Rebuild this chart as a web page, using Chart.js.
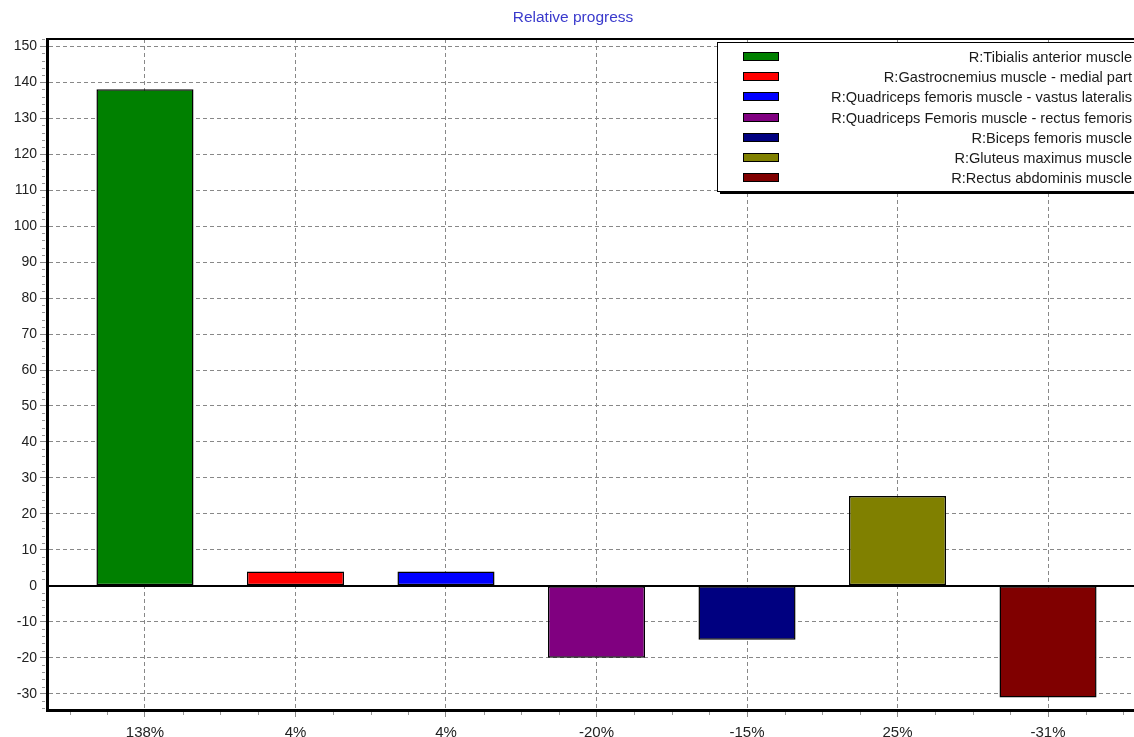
<!DOCTYPE html>
<html>
<head>
<meta charset="utf-8">
<title>Relative progress</title>
<script src="https://cdn.jsdelivr.net/npm/chart.js@4/dist/chart.umd.min.js"></script>
<style>
  html, body { margin: 0; padding: 0; background: #fff; overflow: hidden; }
  #wrap { width: 1150px; height: 737px; }
</style>
</head>
<body>
<div id="wrap"><canvas id="progressChart" width="1150" height="737"></canvas></div>
<script>
const muscles = [
  "R:Tibialis anterior muscle",
  "R:Gastrocnemius muscle - medial part",
  "R:Quadriceps femoris muscle - vastus lateralis",
  "R:Quadriceps Femoris muscle - rectus femoris",
  "R:Biceps femoris muscle",
  "R:Gluteus maximus muscle",
  "R:Rectus abdominis muscle"
];
const progress = [138, 4, 4, -20, -15, 25, -31];
const tickLabels = ["138%", "4%", "4%", "-20%", "-15%", "25%", "-31%"];
const barColors = ["#008000", "#ff0000", "#0000ff", "#800080", "#000080", "#808000", "#800000"];
const yTicks = [-30, -20, -10, 0, 10, 20, 30, 40, 50, 60, 70, 80, 90, 100, 110, 120, 130, 140, 150];

const FONT = "Arial, 'Liberation Sans', sans-serif";

// minor ticks, zero line and the top frame of the plot
const framePlugin = {
  id: "frame",
  beforeDatasetsDraw(chart) {
    const { ctx, chartArea: a, scales: { y } } = chart;
    ctx.save();
    ctx.strokeStyle = "#000";
    ctx.lineWidth = 2;
    const y0 = Math.round(y.getPixelForValue(0));
    ctx.beginPath();
    ctx.moveTo(a.left, y0);
    ctx.lineTo(a.right, y0);
    ctx.stroke();
    ctx.restore();
  },
  afterDraw(chart) {
    const { ctx, chartArea: a, scales: { x, y } } = chart;
    ctx.save();
    ctx.strokeStyle = "#000";
    ctx.lineWidth = 2;
    ctx.beginPath();
    ctx.moveTo(a.left - 1, a.top);
    ctx.lineTo(a.right, a.top);
    ctx.stroke();

    ctx.strokeStyle = "#999";
    ctx.lineWidth = 1;
    ctx.beginPath();
    for (let q = -2; q <= progress.length * 4; q++) {
      if (q % 4 === 0) continue;
      const px = Math.round(x.getPixelForValue(q / 4)) + 0.5;
      if (px < a.left || px > a.right) continue;
      ctx.moveTo(px, a.bottom + 2);
      ctx.lineTo(px, a.bottom + 5);
    }
    for (let v = -34; v <= 152; v += 2) {
      if (v % 10 === 0) continue;
      const py = Math.round(y.getPixelForValue(v)) + 0.5;
      ctx.moveTo(a.left - 5, py);
      ctx.lineTo(a.left - 2, py);
    }
    ctx.stroke();
    ctx.restore();
  }
};

// boxed legend with right-aligned names
const legendBox = {
  id: "legendBox",
  afterDraw(chart) {
    const { ctx } = chart;
    const left = 717, top = 42, right = 1143, bottom = 191;
    ctx.save();
    ctx.fillStyle = "#000";
    ctx.fillRect(left + 3, top + 3, right - left, bottom - top);
    ctx.fillStyle = "#fff";
    ctx.fillRect(left, top, right - left, bottom - top);
    ctx.strokeStyle = "#000";
    ctx.lineWidth = 1;
    ctx.strokeRect(left + 0.5, top + 0.5, right - left, bottom - top);

    ctx.font = "14.6px " + FONT;
    ctx.textAlign = "right";
    ctx.textBaseline = "middle";
    muscles.forEach((name, i) => {
      const cy = Math.round(57 + i * 20.2);
      ctx.fillStyle = barColors[i];
      ctx.fillRect(743, cy - 5, 36, 9);
      ctx.strokeStyle = "#000";
      ctx.strokeRect(743.5, cy - 4.5, 35, 8);
      ctx.fillStyle = "#1a1a1a";
      ctx.fillText(name, 1132, cy + 1);
    });
    ctx.restore();
  }
};

new Chart(document.getElementById("progressChart"), {
  type: "bar",
  data: {
    datasets: [{
      label: "Relative progress",
      data: progress.map((v, i) => ({ x: i, y: v })),
      backgroundColor: barColors,
      borderColor: "#000",
      borderWidth: 1.5,
      borderSkipped: false,
      barPercentage: 0.645,
      categoryPercentage: 1
    }]
  },
  options: {
    responsive: false,
    animation: false,
    devicePixelRatio: 1,
    layout: { padding: { left: 0, right: 4, top: 0, bottom: 0 } },
    plugins: {
      legend: { display: false },
      tooltip: { enabled: false },
      title: {
        display: true,
        text: "Relative progress",
        color: "#3a3acc",
        font: { family: FONT, size: 15.5, weight: "normal", lineHeight: 1.2 },
        padding: { top: 8, bottom: 12.4 }
      }
    },
    scales: {
      x: {
        type: "linear",
        offset: false,
        min: -0.651,
        max: 6.651,
        afterBuildTicks(scale) { scale.ticks = progress.map((_, i) => ({ value: i })); },
        afterFit(scale) { scale.height = 27; },
        grid: { offset: false, color: "#888", lineWidth: 1, tickLength: 7, drawTicks: true },
        border: { display: true, color: "#000", width: 3, dash: [4, 3] },
        ticks: {
          padding: 7,
          color: "#222",
          font: { family: FONT, size: 15 },
          maxRotation: 0,
          autoSkip: false,
          callback: (v) => tickLabels[v]
        }
      },
      y: {
        min: -34.5,
        max: 152,
        afterBuildTicks(scale) { scale.ticks = yTicks.map(v => ({ value: v })); },
        afterFit(scale) { scale.width = 47; },
        grid: {
          color: (c) => (c.tick && c.tick.value === 0 ? "rgba(0,0,0,0)" : "#888"),
          lineWidth: 1,
          tickLength: 7
        },
        border: { display: true, color: "#000", width: 3, dash: [4, 3] },
        ticks: {
          padding: 3,
          color: "#222",
          font: { family: FONT, size: 14 },
          autoSkip: false
        }
      }
    }
  },
  plugins: [framePlugin, legendBox]
});
</script>
</body>
</html>
